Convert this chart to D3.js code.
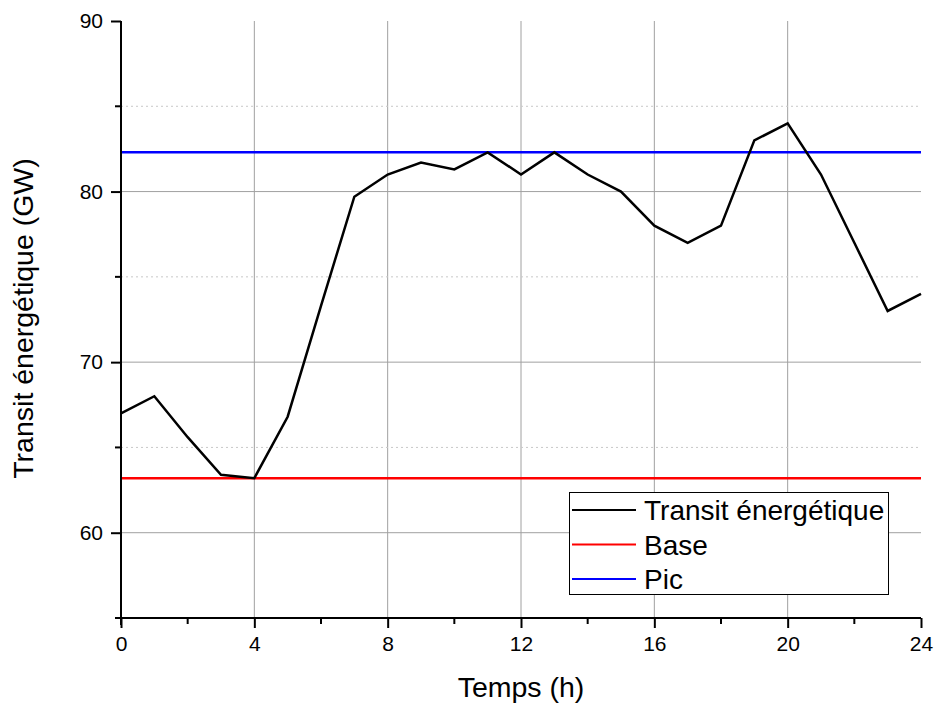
<!DOCTYPE html>
<html><head><meta charset="utf-8">
<script src="https://cdn.jsdelivr.net/npm/d3@7"></script>
<style>body{margin:0;background:#fff}svg{display:block;font-family:"Liberation Sans",Arial,sans-serif}</style>
</head><body><svg id="c" width="936" height="707"></svg>
<script>
const hours = [0,1,2,3,4,5,6,7,8,9,10,11,12,13,14,15,16,17,18,19,20,21,22,23,24];
const transit = [67.0,68.0,65.6,63.4,63.2,66.8,73.3,79.7,81.0,81.7,81.3,82.3,81.0,82.3,81.0,80.0,78.0,77.0,78.0,83.0,84.0,81.0,77.0,73.0,74.0];
const baseValue = 63.2;
const picValue = 82.3;
const xTicks = [0,4,8,12,16,20,24];
const xMinorTicks = [2,6,10,14,18,22];
const yTicks = [60,70,80,90];
const yMinorTicks = [55,65,75,85];
const legendItems = [
  {label:"Transit énergétique", color:"#000"},
  {label:"Base", color:"#f00"},
  {label:"Pic", color:"#00f"}
];

const svg = d3.select("#c");
const x = d3.scaleLinear().domain([0,24]).range([121,921]);
const y = d3.scaleLinear().domain([55,90]).range([618,21]);

// grid
const g = svg.append("g");
g.selectAll(".vg").data(xTicks.slice(1,-1)).enter().append("line")
  .attr("x1",d=>x(d)).attr("x2",d=>x(d)).attr("y1",y(90)).attr("y2",y(55))
  .attr("stroke","#a0a0a0").attr("stroke-width",1);
g.selectAll(".hg").data([60,70,80]).enter().append("line")
  .attr("x1",x(0)).attr("x2",x(24)).attr("y1",d=>y(d)).attr("y2",d=>y(d))
  .attr("stroke","#a0a0a0").attr("stroke-width",1);
g.selectAll(".hm").data([65,75,85]).enter().append("line")
  .attr("x1",x(0)).attr("x2",x(24)).attr("y1",d=>y(d)).attr("y2",d=>y(d))
  .attr("stroke","#c8c8c8").attr("stroke-width",1).attr("stroke-dasharray","2,3");

// reference lines
svg.append("line").attr("x1",x(0)).attr("x2",x(24)).attr("y1",y(baseValue)).attr("y2",y(baseValue))
  .attr("stroke","#f00").attr("stroke-width",2.5);
svg.append("line").attr("x1",x(0)).attr("x2",x(24)).attr("y1",y(picValue)).attr("y2",y(picValue))
  .attr("stroke","#00f").attr("stroke-width",2.5);

// data line
svg.append("path").datum(hours.map((h,i)=>[h,transit[i]]))
  .attr("d",d3.line().x(d=>x(d[0])).y(d=>y(d[1])))
  .attr("fill","none").attr("stroke","#000").attr("stroke-width",2.5).attr("stroke-linejoin","miter");

// axes
const xAxis = svg.append("g").attr("transform",`translate(0,${y(55)})`)
  .call(d3.axisBottom(x).tickValues(xTicks).tickSize(10).tickPadding(8).tickFormat(d3.format("d")));
xAxis.append("g").selectAll("line").data(xMinorTicks).enter().append("line")
  .attr("x1",d=>x(d)).attr("x2",d=>x(d)).attr("y1",0).attr("y2",6).attr("stroke","#000").attr("stroke-width",2);
const yAxis = svg.append("g").attr("transform",`translate(${x(0)},0)`)
  .call(d3.axisLeft(y).tickValues(yTicks).tickSize(10).tickPadding(8).tickFormat(d3.format("d")));
yAxis.append("g").selectAll("line").data(yMinorTicks).enter().append("line")
  .attr("x1",-6).attr("x2",0).attr("y1",d=>y(d)).attr("y2",d=>y(d)).attr("stroke","#000").attr("stroke-width",2);
[xAxis,yAxis].forEach(a=>{
  a.select(".domain").attr("stroke","#000").attr("stroke-width",2);
  a.selectAll(".tick line").attr("stroke","#000").attr("stroke-width",2);
  a.selectAll(".tick text").attr("font-size",21).attr("fill","#000").attr("font-family","Liberation Sans, Arial, sans-serif");
});
xAxis.select(".domain").attr("d",`M${x(0)-5},0H${x(24)}`);
yAxis.select(".domain").attr("d",`M0,${y(55)+7}V${y(90)}`);

// axis titles
svg.append("text").attr("x",521).attr("y",697).attr("text-anchor","middle")
  .attr("font-size",28.5).text("Temps (h)");
svg.append("text").attr("transform",`translate(33,${(155+482)/2}) rotate(-90)`).attr("text-anchor","middle")
  .attr("font-size",28.5).text("Transit énergétique (GW)");

// legend
const lg = svg.append("g");
lg.append("rect").attr("x",569.5).attr("y",492.5).attr("width",319).attr("height",102)
  .attr("fill","#fff").attr("stroke","#000").attr("stroke-width",1);
legendItems.forEach((it,i)=>{
  const yy = 510 + i*34.5;
  lg.append("line").attr("x1",572).attr("x2",636).attr("y1",yy).attr("y2",yy)
    .attr("stroke",it.color).attr("stroke-width",2.2);
  lg.append("text").attr("x",644).attr("y",yy+10).attr("font-size",28).text(it.label);
});
</script></body></html>
